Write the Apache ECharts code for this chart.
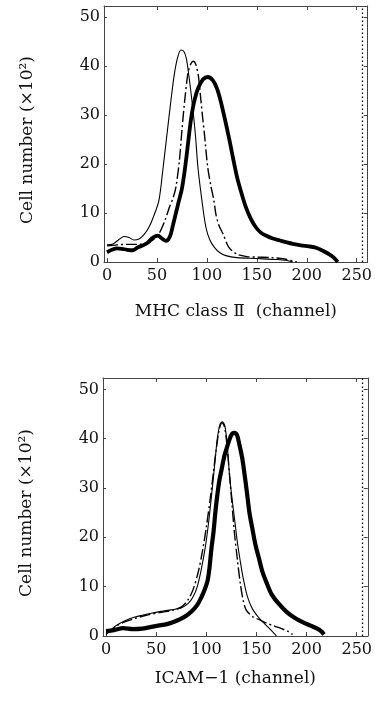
<!DOCTYPE html>
<html>
<head>
<meta charset="utf-8">
<script src="https://cdn.jsdelivr.net/npm/echarts@6/dist/echarts.min.js"></script>
<style>
  html, body { margin: 0; padding: 0; background: #fff; }
  #chart { width: 375px; height: 711px; }
</style>
</head>
<body>
<div id="chart"></div>
<script>
// tick values shared by both panels
const xTicks = [0, 50, 100, 150, 200, 250];
const yTicks = [0, 10, 20, 30, 40, 50];
const gateChannel = 256;

// MHC class II histograms: [channel, cell number x10^2]
const mhcThin = [[0,3.5],[6,3.7],[12,4.6],[17,5.2],[22,5.0],[27,4.5],[32,4.7],[37,5.6],[42,7.1],[47,9.5],[52,12.6],[56,19],[60,26],[64,33],[67.5,38.5],[71,42],[74,43.3],[77,43],[79.5,41.5],[82,38],[85,33],[88.5,26],[91,19.4],[95,12.6],[99,7.1],[103,4.5],[107.5,3],[113,1.9],[119,1.3],[130,0.9],[150,0.7],[170,0.5],[180,0.3],[186,0]];
const mhcDash = [[0,3.3],[10,3.5],[20,3.6],[30,3.6],[40,3.8],[46,4.5],[52,5.8],[58,8.5],[63,11.5],[66,13],[69,15.3],[72.5,20.8],[75,26.9],[77.8,33],[81,38.5],[84,40.5],[86.5,41],[89,40.3],[91.5,38],[94,33],[96,29],[97.5,26.2],[100.8,19.4],[104,15.5],[107,12.6],[109,9.8],[112,7.5],[116,5.8],[122,3],[130,1.6],[140,1.1],[150,1.0],[165,0.9],[178,0.6],[186,0.2],[190,0]];
const mhcThick = [[0,2.0],[5,2.5],[10,2.8],[15,2.7],[20,2.5],[26,2.4],[31,3.0],[36,3.4],[41,4.0],[46,5.0],[51,5.4],[55,4.8],[59,4.3],[63,5.2],[66,7.5],[69,10],[72,12.5],[75,15],[78,19],[81,24],[84,29],[87,32.5],[91,35.4],[96,37.3],[101,37.8],[106,37.1],[110,35.5],[113,33.5],[116,31],[119,28.3],[122.5,25],[126,21.4],[130,17.5],[134,14.5],[139,11.2],[144,8.8],[149,7.1],[154,6],[159,5.4],[166,4.8],[173,4.4],[180,4],[186,3.7],[194,3.4],[202,3.2],[208,3.0],[213,2.6],[218,2.1],[223,1.5],[227,0.9],[231,0]];

// ICAM-1 histograms
const icamThin = [[0,0.3],[4,1.0],[8,1.8],[14,2.6],[20,3.2],[28,3.8],[36,4.2],[45,4.6],[55,5.0],[65,5.3],[75,5.7],[82,6.6],[87,8.0],[91,10],[95,13.5],[99,18],[102,22.5],[105,28],[108,34],[111,40],[113.5,42.8],[116,43.4],[118.5,42.6],[120.7,39],[123,33],[125,29],[128,24],[131,19],[134,15],[137,11.5],[141,8],[146,5.5],[152,3.8],[158,2.5],[164,1.3],[170,0]];
const icamDash = [[0,0.5],[5,1.2],[10,2.0],[18,2.8],[28,3.5],[40,4.2],[55,4.8],[68,5.3],[76,6],[82,7.4],[87,9.5],[92,13],[96,17],[100,22],[104,28],[107,33],[110,38],[113,42],[115.7,43.2],[118,42.5],[120.5,39],[123,33],[125.5,27],[128,21],[131,15.5],[134,10.5],[137,7],[140,5.2],[147,3.8],[152,3.4],[160,2.6],[168,2],[175,1.5],[181,1.0],[186,0.3]];
const icamThick = [[0,1.0],[8,1.2],[17,1.6],[27,1.4],[36,1.5],[44,1.8],[52,2.1],[60.7,2.4],[68,2.9],[74,3.4],[80,4.1],[86,5.1],[91,6.3],[95,7.8],[98,9.2],[101,11],[103,13.5],[105,17.5],[107.3,21.3],[109,25],[110.7,28.1],[113,31.5],[115.7,34.2],[118,36.5],[120.7,38.3],[123,39.8],[125.7,41],[128,41.2],[130.7,40.7],[133,38.8],[135.7,36.2],[138,33],[140.7,28.8],[143,25],[145.7,22],[149,18.5],[152.3,15.9],[156,13],[160.7,10.5],[165,8.5],[172,6.6],[180,4.9],[188,3.7],[196,2.8],[204,2.1],[210.7,1.5],[215,0.9],[217.3,0.3]];

const FONT = "'DejaVu Serif', 'Liberation Serif', serif";
const INK = '#111';
const FRAME = '#444';

// bottom + top x axes for one panel
function xAxes(grid, name, gap) {
  return [
    {
      gridIndex: grid, type: 'value', min: -3, max: 261, position: 'bottom',
      axisLine: { show: true, onZero: false, lineStyle: { color: FRAME, width: 1 } },
      axisTick: { show: true, inside: true, length: 4, customValues: xTicks, lineStyle: { color: FRAME } },
      axisLabel: { customValues: xTicks, fontFamily: FONT, fontSize: 16, color: INK, margin: 6 },
      splitLine: { show: false },
      name: name, nameLocation: 'middle', nameGap: gap,
      nameTextStyle: { fontFamily: FONT, fontSize: 17, color: INK }
    },
    {
      gridIndex: grid, type: 'value', min: -3, max: 261, position: 'top',
      axisLine: { show: true, onZero: false, lineStyle: { color: FRAME, width: 1 } },
      axisTick: { show: true, inside: true, length: 4, customValues: xTicks.slice(1), lineStyle: { color: FRAME } },
      axisLabel: { show: false },
      splitLine: { show: false }
    }
  ];
}

// left + right y axes for one panel
function yAxes(grid) {
  return [
    {
      gridIndex: grid, type: 'value', min: 0, max: 52.3, position: 'left',
      axisLine: { show: true, onZero: false, lineStyle: { color: FRAME, width: 1 } },
      axisTick: { show: true, inside: true, length: 3, customValues: yTicks, lineStyle: { color: FRAME } },
      axisLabel: { customValues: yTicks, fontFamily: FONT, fontSize: 16, color: INK, margin: 4 },
      splitLine: { show: false },
      name: 'Cell number (×10²)', nameLocation: 'middle', nameRotate: 90, nameGap: 68,
      nameTextStyle: { fontFamily: FONT, fontSize: 17, color: INK, padding: [0, 12, 0, 0] }
    },
    {
      gridIndex: grid, type: 'value', min: 0, max: 52.3, position: 'right',
      axisLine: { show: true, onZero: false, lineStyle: { color: FRAME, width: 1 } },
      axisTick: { show: true, inside: true, length: 4, customValues: yTicks.slice(1), lineStyle: { color: FRAME } },
      axisLabel: { show: false },
      splitLine: { show: false }
    }
  ];
}

// panel p uses x axes 2p (bottom), 2p+1 (top) and y axes 2p (left), 2p+1 (right)
function curve(data, panel, width, dash, onFrame) {
  const k = panel * 2 + (onFrame ? 1 : 0);
  return {
    type: 'line', data: data, xAxisIndex: k, yAxisIndex: k,
    showSymbol: false, smooth: 0.3, silent: true,
    lineStyle: { color: '#000', width: width, type: dash || 'solid' }
  };
}

function withGate(s) {
  s.markLine = {
    symbol: 'none', silent: true, label: { show: false },
    lineStyle: { color: '#000', width: 1.3, type: [1.5, 2.5] },
    data: [{ xAxis: gateChannel }]
  };
  return s;
}

const DASHDOT = [11, 3, 2, 3];

const chart = echarts.init(document.getElementById('chart'));
chart.setOption({
  animation: false,
  backgroundColor: '#fff',
  grid: [
    { left: 104, top: 6, width: 265, height: 256 },
    { left: 103, top: 378, width: 265, height: 258 }
  ],
  xAxis: [].concat(xAxes(0, 'MHC class Ⅱ  (channel)', 41), xAxes(1, 'ICAM−1 (channel)', 34)),
  yAxis: [].concat(yAxes(0), yAxes(1)),
  series: [
    curve(mhcThin, 0, 1.1),
    withGate(curve(mhcDash, 0, 1.4, DASHDOT, true)),
    curve(mhcThick, 0, 3.8),
    curve(icamThin, 1, 1.1),
    withGate(curve(icamDash, 1, 1.4, DASHDOT, true)),
    curve(icamThick, 1, 4.2)
  ]
});
</script>
</body>
</html>
